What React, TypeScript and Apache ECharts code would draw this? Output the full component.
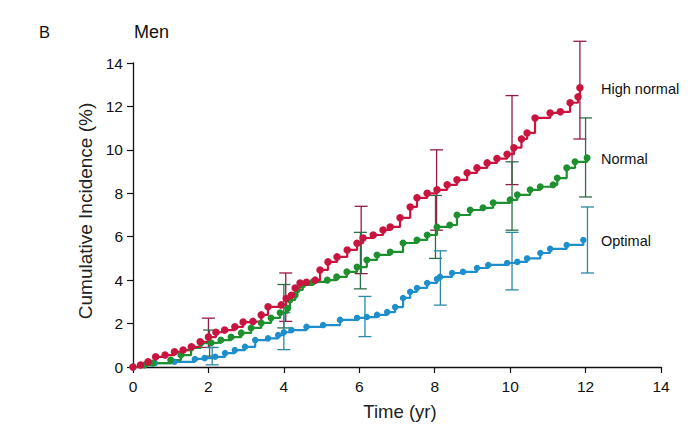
import React, { useEffect, useRef } from "react";
import * as echarts from "echarts";

const xTicks = [0, 2, 4, 6, 8, 10, 12, 14];
const yTicks = [0, 2, 4, 6, 8, 10, 12, 14];

const seriesNames = ["High normal", "Normal", "Optimal"];

const highNormal: number[][] = [
  [0, 0], [0.2, 0.09], [0.4, 0.24], [0.6, 0.47], [0.85, 0.55], [1.1, 0.7], [1.33, 0.78],
  [1.55, 0.93], [1.78, 1.16], [2.0, 1.38], [2.2, 1.6], [2.43, 1.7], [2.7, 1.85], [2.92, 2.07],
  [3.18, 2.1], [3.4, 2.4], [3.58, 2.77], [3.93, 2.86], [4.06, 3.15], [4.2, 3.3], [4.3, 3.64],
  [4.43, 3.87], [4.6, 3.9], [4.83, 4.0], [4.96, 4.47], [5.17, 4.84], [5.41, 5.07], [5.68, 5.39],
  [5.94, 5.7], [6.1, 5.94], [6.37, 6.08], [6.63, 6.31], [6.82, 6.45], [7.08, 6.87], [7.35, 7.37],
  [7.53, 7.79], [7.8, 8.0], [8.06, 8.16], [8.33, 8.39], [8.59, 8.62], [8.86, 8.94], [9.12, 9.17],
  [9.39, 9.4], [9.65, 9.6], [9.92, 9.8], [10.1, 10.1], [10.3, 10.5], [10.45, 10.78], [10.66, 11.47],
  [11.06, 11.7], [11.33, 11.75], [11.59, 12.17], [11.8, 12.44], [11.85, 12.86]
];

const normal: number[][] = [
  [0, 0], [0.3, 0.09], [0.53, 0.18], [1.0, 0.32], [1.27, 0.55], [1.54, 0.88], [1.8, 1.1],
  [2.07, 1.12], [2.33, 1.24], [2.6, 1.38], [2.87, 1.57], [3.13, 1.8], [3.4, 2.03], [3.66, 2.26],
  [3.9, 2.5], [4.1, 2.7], [4.16, 3.09], [4.3, 3.3], [4.35, 3.55], [4.5, 3.78], [4.77, 3.92],
  [5.15, 4.0], [5.4, 4.15], [5.67, 4.38], [5.94, 4.6], [6.2, 4.93], [6.47, 5.16], [6.82, 5.3],
  [7.16, 5.71], [7.53, 5.85], [7.8, 6.08], [8.06, 6.45], [8.4, 6.54], [8.59, 7.0], [8.94, 7.23],
  [9.28, 7.33], [9.55, 7.56], [10.0, 7.7], [10.19, 7.93], [10.53, 8.16], [10.8, 8.3], [11.14, 8.39],
  [11.25, 8.7], [11.5, 9.17], [11.72, 9.45], [12.04, 9.63]
];

const optimal: number[][] = [
  [0, 0], [0.3, 0.09], [0.58, 0.18], [1.1, 0.24], [1.64, 0.37], [1.9, 0.41], [2.18, 0.47],
  [2.44, 0.64], [2.7, 0.78], [2.97, 0.93], [3.24, 1.24], [3.58, 1.32], [3.85, 1.47], [4.0, 1.6],
  [4.2, 1.7], [4.6, 1.85], [5.04, 1.93], [5.49, 2.17], [5.94, 2.26], [6.2, 2.3], [6.47, 2.4],
  [6.74, 2.53], [6.95, 2.76], [7.16, 3.18], [7.35, 3.46], [7.53, 3.64], [7.8, 3.87], [8.06, 4.05],
  [8.14, 4.15], [8.46, 4.33], [8.75, 4.38], [9.12, 4.56], [9.42, 4.7], [9.92, 4.79], [10.19, 4.84],
  [10.45, 5.0], [10.8, 5.25], [11.06, 5.44], [11.5, 5.62], [11.94, 5.85]
];

// error bars: [time, lower, upper]
const highNormalCI: number[][] = [
  [2.0, 0.9, 2.25], [4.05, 2.1, 4.33], [6.05, 4.3, 7.4], [8.05, 6.3, 10.0], [10.05, 8.4, 12.5], [11.85, 10.5, 15.0]
];
const normalCI: number[][] = [
  [2.03, 0.5, 1.7], [4.0, 1.8, 3.8], [6.03, 3.6, 6.2], [8.02, 5.0, 7.9], [10.05, 6.3, 9.45], [12.0, 7.83, 11.47]
];
const optimalCI: number[][] = [
  [2.1, 0.1, 0.9], [4.0, 0.8, 2.5], [6.15, 1.4, 3.25], [8.15, 2.85, 5.35], [10.05, 3.55, 6.2], [12.05, 4.33, 7.37]
];

const FONT = "'Liberation Sans', Arial, sans-serif";

function errorSeries(data: number[][], color: string) {
  return {
    type: "custom",
    data,
    clip: false,
    z: 1,
    encode: { x: 0, y: [1, 2] },
    renderItem: (params: any, api: any) => {
      const x = api.value(0);
      const lo = api.coord([x, api.value(1)]);
      const hi = api.coord([x, api.value(2)]);
      const w = 6.5;
      const style = { stroke: color, lineWidth: 1.3 };
      return {
        type: "group",
        children: [
          { type: "line", shape: { x1: lo[0], y1: lo[1], x2: hi[0], y2: hi[1] }, style },
          { type: "line", shape: { x1: lo[0] - w, y1: lo[1], x2: lo[0] + w, y2: lo[1] }, style },
          { type: "line", shape: { x1: hi[0] - w, y1: hi[1], x2: hi[0] + w, y2: hi[1] }, style },
        ],
      };
    },
  };
}

function lineSeries(name: string, data: number[][], color: string, size: number) {
  return {
    type: "line",
    name,
    data,
    step: "end",
    z: 3,
    symbol: "circle",
    symbolSize: size,
    showSymbol: true,
    lineStyle: { color, width: 2.2 },
    itemStyle: { color },
  };
}

export default function App() {
  const ref = useRef<HTMLDivElement>(null);
  useEffect(() => {
    if (!ref.current) return;
    const chart = echarts.init(ref.current, undefined, { renderer: "svg" });
    const axisCommon = {
      type: "value",
      min: 0,
      max: 14,
      interval: 2,
      axisLine: { show: true, lineStyle: { color: "#111", width: 1.3 } },
      axisTick: { show: true, inside: false, length: 6, lineStyle: { color: "#111", width: 1.2 } },
      splitLine: { show: false },
      axisLabel: { color: "#111", fontSize: 15.5, fontFamily: FONT },
    };
    chart.setOption({
      animation: false,
      backgroundColor: "#fff",
      grid: { left: 133, right: 27, top: 63, bottom: 63 },
      xAxis: { ...axisCommon, axisLabel: { ...axisCommon.axisLabel, margin: 11, formatter: (v: number) => (xTicks.includes(v) ? String(v) : "") } },
      yAxis: { ...axisCommon, axisLabel: { ...axisCommon.axisLabel, margin: 10, formatter: (v: number) => (yTicks.includes(v) ? String(v) : "") } },
      series: [
        errorSeries(highNormalCI, "#961a45"),
        errorSeries(normalCI, "#2d6e45"),
        errorSeries(optimalCI, "#2a88a8"),
        lineSeries(seriesNames[2], optimal, "#1f8fcc", 6.5),
        lineSeries(seriesNames[1], normal, "#1e9030", 7),
        lineSeries(seriesNames[0], highNormal, "#c8143f", 7.5),
      ],
      graphic: [
        { type: "text", x: 39, y: 32, style: { text: "B", fontSize: 16.5, fill: "#111", fontFamily: FONT, verticalAlign: "middle" } },
        { type: "text", x: 134, y: 32, style: { text: "Men", fontSize: 18, fill: "#111", fontFamily: FONT, verticalAlign: "middle" } },
        {
          type: "text",
          x: 85,
          y: 211,
          rotation: Math.PI / 2,
          style: { text: "Cumulative Incidence (%)", fontSize: 19, fill: "#222", fontFamily: FONT, align: "center", verticalAlign: "middle" },
        },
        { type: "text", x: 400, y: 411, style: { text: "Time (yr)", fontSize: 18.5, fill: "#222", fontFamily: FONT, align: "center", verticalAlign: "middle" } },
        { type: "text", x: 601, y: 89, style: { text: seriesNames[0], fontSize: 14.5, fill: "#111", fontFamily: FONT, verticalAlign: "middle" } },
        { type: "text", x: 601, y: 159, style: { text: seriesNames[1], fontSize: 14.5, fill: "#111", fontFamily: FONT, verticalAlign: "middle" } },
        { type: "text", x: 601, y: 241, style: { text: seriesNames[2], fontSize: 14.5, fill: "#111", fontFamily: FONT, verticalAlign: "middle" } },
      ],
    });
    return () => chart.dispose();
  }, []);
  return <div ref={ref} style={{ position: "fixed", left: 0, top: 0, width: 688, height: 430 }} />;
}
